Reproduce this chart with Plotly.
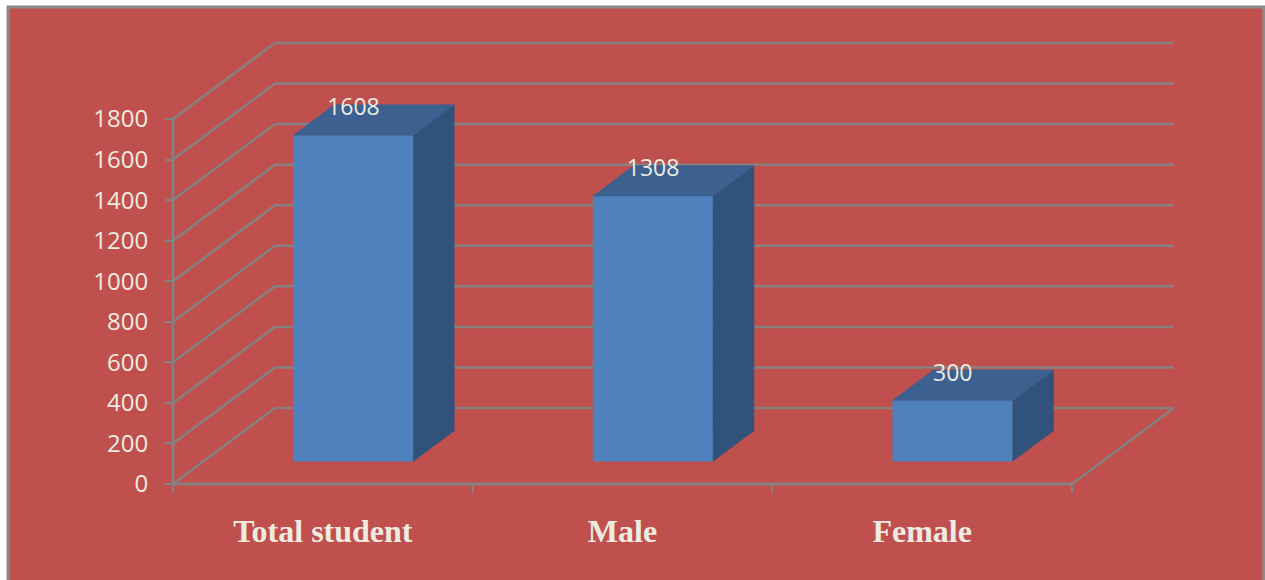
import plotly.graph_objects as go

categories = ["Total student", "Male", "Female"]
values = [1608, 1308, 300]
y_ticks = [0, 200, 400, 600, 800, 1000, 1200, 1400, 1600, 1800]

W, H = 1265, 580
L, R, T, B = 173, 1174, 43, 484          # chart box in page pixels
PAD = 10                                  # slack so edge lines are not clipped
CAT_PX = (1072 - 173) / 3
VAL_PX = 365 / 1800
DX = 102 / CAT_PX                         # chart depth in x units
DY = 76 / VAL_PX                          # chart depth in y units
BAR_W = 120 / CAT_PX
BAR_FRONT = 0.30
BAR_DEPTH = 0.40

GRID = "#878080"
AXIS = "#7f8585"
TXT = "#EEECE1"
FRONT = "#4F81BD"
SIDE = "#31537B"
TOP = "#3C6190"

fig = go.Figure()

def line(xs, ys, color=GRID, width=2.5):
    fig.add_trace(go.Scatter(x=xs, y=ys, mode="lines", line=dict(color=color, width=width),
                             hoverinfo="skip", showlegend=False))

def poly(xs, ys, color):
    fig.add_trace(go.Scatter(x=xs, y=ys, mode="lines", fill="toself", fillcolor=color,
                             line=dict(color=color, width=0.5), hoverinfo="skip",
                             showlegend=False))

n = len(categories)
# walls
for v in y_ticks:
    line([0, DX, n + DX], [v, v + DY, v + DY])
line([n, n + DX], [0, DY])
line([0, n], [0, 0], GRID, 3)
line([0, 0], [0, y_ticks[-1]], AXIS)

# bars
for i, v in enumerate(values):
    x0 = i + 0.5 - BAR_W / 2 + BAR_FRONT * DX
    x1 = x0 + BAR_W
    y0 = BAR_FRONT * DY
    y1 = y0 + v
    ddx, ddy = BAR_DEPTH * DX, BAR_DEPTH * DY
    poly([x0, x1, x1, x0, x0], [y0, y0, y1, y1, y0], FRONT)
    poly([x1, x1 + ddx, x1 + ddx, x1, x1], [y0, y0 + ddy, y1 + ddy, y1, y0], SIDE)
    poly([x0, x1, x1 + ddx, x0 + ddx, x0], [y1, y1, y1 + ddy, y1 + ddy, y1], TOP)

# data labels
fig.add_trace(go.Scatter(
    x=[i + 0.5 + BAR_FRONT * DX for i in range(n)],
    y=[v + (BAR_FRONT + BAR_DEPTH) * DY - 5 / VAL_PX for v in values],
    mode="text", text=[str(v) for v in values], textposition="middle center",
    textfont=dict(family="Open Sans", size=23, color=TXT),
    hoverinfo="skip", showlegend=False))

pl, pr, pt, pb = L - PAD, R + PAD, T - PAD, B + PAD
fig.update_layout(
    width=W, height=H,
    margin=dict(l=pl, r=W - pr, t=pt, b=H - pb, pad=0),
    paper_bgcolor="white", plot_bgcolor="rgba(0,0,0,0)",
    xaxis=dict(range=[-PAD / CAT_PX, (pr - L) / CAT_PX], anchor="free",
               position=PAD / (pb - pt), showgrid=False, zeroline=False, showline=False,
               tickmode="array", tickvals=[i + 0.5 for i in range(n)], ticktext=categories,
               ticks="", ticklabelstandoff=25,
               tickfont=dict(family="Liberation Serif", size=32, color=TXT, weight="bold"),
               minor=dict(tickmode="array", tickvals=list(range(n + 1)), ticks="outside",
                          ticklen=8, tickwidth=2, tickcolor=AXIS, showgrid=False)),
    yaxis=dict(range=[-PAD / VAL_PX, (B - pt) / VAL_PX], anchor="free",
               position=PAD / (pr - pl), showgrid=False, zeroline=False, showline=False,
               tickmode="array", tickvals=y_ticks, ticks="outside", ticklen=8, tickwidth=2,
               tickcolor=AXIS, ticklabelstandoff=12,
               tickfont=dict(family="Open Sans", size=24, color=TXT)),
    shapes=[dict(type="rect", xref="paper", yref="paper", layer="below",
                 x0=(8 - pl) / (pr - pl), x1=(1264 - pl) / (pr - pl),
                 y0=(pb - 590) / (pb - pt), y1=(pb - 7) / (pb - pt),
                 fillcolor="#C0504D", line=dict(color="#8C8C8C", width=3))],
)

fig.write_html("out.html", config=dict(displayModeBar=False),
               post_script="document.body.style.margin='0';")
